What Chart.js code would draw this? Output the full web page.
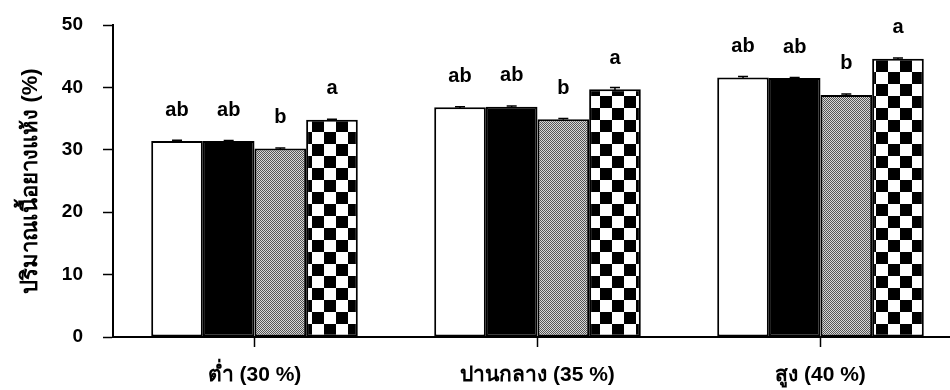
<!DOCTYPE html>
<html>
<head>
<meta charset="utf-8">
<script src="https://cdn.jsdelivr.net/npm/chart.js@4/dist/chart.umd.min.js"></script>
<style>
  html, body { margin: 0; padding: 0; background: #fff; overflow: hidden; }
  #wrap { width: 965px; height: 390px; }
</style>
</head>
<body>
<div id="wrap"><canvas id="c"></canvas></div>
<script>
// data
const categories = ['ต่ำ (30 %)', 'ปานกลาง (35 %)', 'สูง (40 %)'];
const whiteVals = [31.4, 36.8, 41.6];
const blackVals = [31.4, 36.9, 41.5];
const grayVals = [30.2, 34.9, 38.8];
const checkVals = [34.8, 39.7, 44.6];
const whiteErr = [0.15, 0.1, 0.15];
const blackErr = [0.1, 0.1, 0.1];
const grayErr = [0.1, 0.1, 0.15];
const checkErr = [0.1, 0.3, 0.1];
const whiteLetters = ['ab', 'ab', 'ab'];
const blackLetters = ['ab', 'ab', 'ab'];
const grayLetters = ['b', 'b', 'b'];
const checkLetters = ['a', 'a', 'a'];
const yTicks = [0, 10, 20, 30, 40, 50];

const FONT = '"Liberation Sans", Arial, sans-serif';

// fill patterns
function dotPattern() {
  const p = document.createElement('canvas');
  p.width = 2; p.height = 2;
  const g = p.getContext('2d');
  g.fillStyle = '#d8d8d8';
  g.fillRect(0, 0, 2, 2);
  g.fillStyle = '#555';
  g.fillRect(0, 0, 1, 1);
  g.fillRect(1, 1, 1, 1);
  return g.createPattern(p, 'repeat');
}
function checkPattern() {
  const s = 12;
  const p = document.createElement('canvas');
  p.width = s * 2; p.height = s * 2;
  const g = p.getContext('2d');
  g.fillStyle = '#fff';
  g.fillRect(0, 0, s * 2, s * 2);
  g.fillStyle = '#000';
  g.fillRect(0, 0, s, s);
  g.fillRect(s, s, s, s);
  return g.createPattern(p, 'repeat');
}

const errs = [whiteErr, blackErr, grayErr, checkErr];
const letters = [whiteLetters, blackLetters, grayLetters, checkLetters];

const barMarks = {
  id: 'barMarks',
  afterDatasetsDraw(chart) {
    const ctx = chart.ctx;
    const y = chart.scales.y;
    ctx.save();
    chart.data.datasets.forEach((ds, di) => {
      const meta = chart.getDatasetMeta(di);
      meta.data.forEach((bar, i) => {
        const v = ds.data[i];
        const e = errs[di][i];
        const yHi = y.getPixelForValue(v + e);
        const yLo = y.getPixelForValue(v - e);
        ctx.strokeStyle = '#000';
        ctx.lineWidth = 1.5;
        ctx.beginPath();
        ctx.moveTo(bar.x, yHi); ctx.lineTo(bar.x, yLo);
        ctx.moveTo(bar.x - 5, yHi); ctx.lineTo(bar.x + 5, yHi);
        ctx.stroke();
        ctx.fillStyle = '#000';
        ctx.font = 'bold 20px ' + FONT;
        ctx.textAlign = 'center';
        ctx.textBaseline = 'middle';
        ctx.fillText(letters[di][i], bar.x, bar.y - 31);
      });
    });
    ctx.restore();
  }
};

const common = { borderColor: '#000', borderWidth: 2, borderSkipped: false };

new Chart(document.getElementById('c'), {
  type: 'bar',
  data: {
    labels: categories,
    datasets: [
      Object.assign({ data: whiteVals, backgroundColor: '#fff' }, common),
      Object.assign({ data: blackVals, backgroundColor: '#000' }, common),
      Object.assign({ data: grayVals, backgroundColor: dotPattern() }, common),
      Object.assign({ data: checkVals, backgroundColor: checkPattern() }, common)
    ]
  },
  options: {
    responsive: true,
    maintainAspectRatio: false,
    animation: false,
    layout: { padding: { top: 25, right: 3, left: 0, bottom: 0 } },
    datasets: { bar: { categoryPercentage: 0.73, barPercentage: 1.0 } },
    plugins: { legend: { display: false }, tooltip: { enabled: false } },
    scales: {
      x: {
        grid: { display: true, offset: false, drawOnChartArea: false, tickLength: 10, tickColor: '#000', tickWidth: 1.5 },
        border: { color: '#000', width: 2 },
        ticks: { color: '#000', font: { family: FONT, size: 21, weight: 'bold' }, padding: 16 },
        afterFit(s) { s.height = 53; }
      },
      y: {
        min: 0, max: 50,
        afterBuildTicks(s) { s.ticks = yTicks.map(v => ({ value: v })); },
        grid: { display: true, drawOnChartArea: false, tickLength: 10, tickColor: '#000', tickWidth: 1.5 },
        border: { color: '#000', width: 2 },
        ticks: { color: '#000', font: { family: FONT, size: 19, weight: 'bold' }, padding: 20 },
        title: { display: true, text: 'ปริมาณเนื้อยางแห้ง (%)', color: '#000', font: { family: FONT, size: 22, weight: 'bold' }, padding: { top: 18, bottom: 0 } },
        afterFit(s) { s.width = 113; s.paddingTop = 0; s.paddingBottom = 0; }
      }
    }
  },
  plugins: [barMarks]
});
</script>
</body>
</html>
